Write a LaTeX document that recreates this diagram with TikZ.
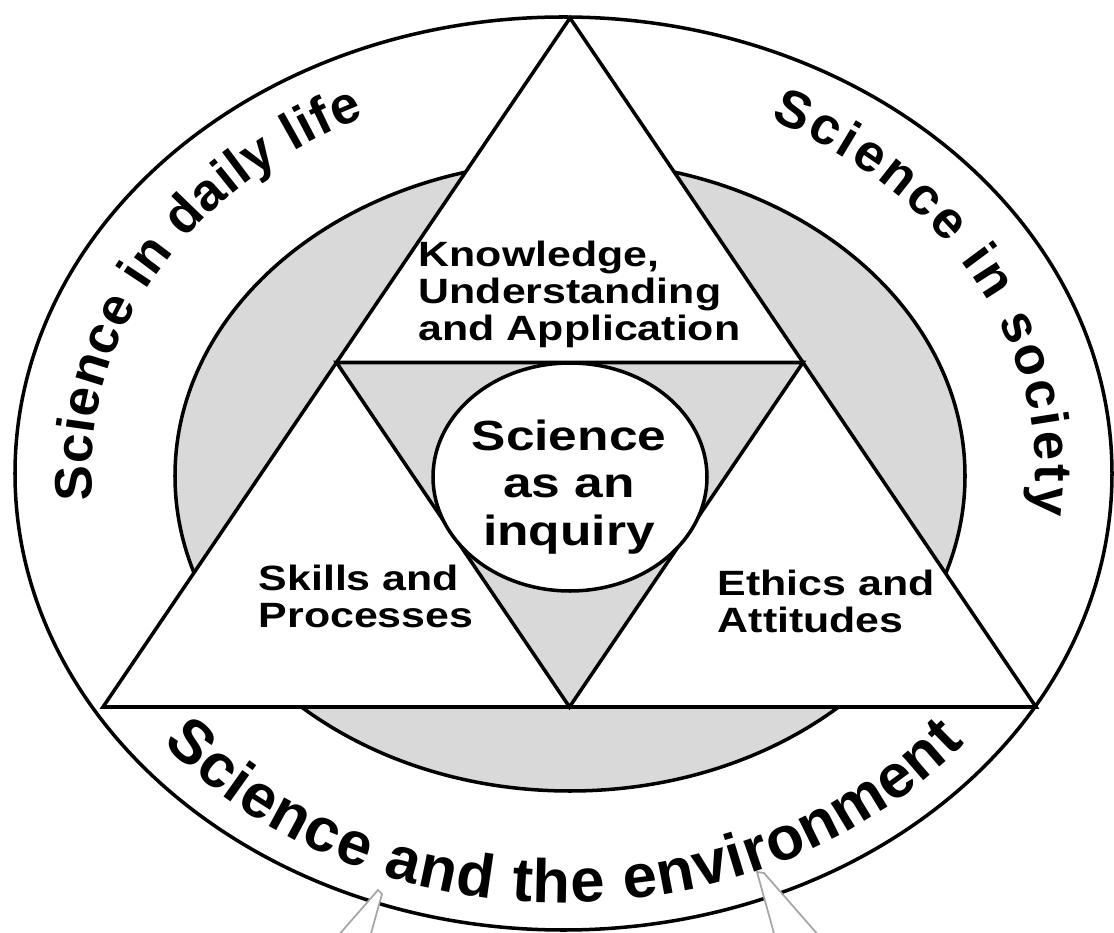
\documentclass[tikz,border=0pt]{standalone}
\usepackage{fontspec}
\setmainfont{Liberation Sans}[FakeStretch=1.22]
\newfontfamily\ringfont{Liberation Sans}
\usepackage{xcolor}
\usetikzlibrary{calc,decorations.text}

\definecolor{mottle}{gray}{0.85}
\newcommand\ringtop{\ringfont\bfseries\fontsize{15}{18}\selectfont}
\newcommand\ringlow{\ringfont\bfseries\fontsize{17.5}{21}\selectfont}

\begin{document}
\begin{tikzpicture}[
  line width=1pt,
  band/.style={draw=black, fill=mottle},
  tri/.style={draw=black, fill=white, line join=miter},
  hole/.style={draw=black, fill=white},
  partlabel/.style={align=left, inner sep=0pt, anchor=north west,
    font=\bfseries\fontsize{10}{10.5}\selectfont},
  corelabel/.style={align=center, inner sep=0pt,
    font=\bfseries\fontsize{12}{13.6}\selectfont},
  ringtext/.style={decorate, decoration={text along path,
    text align={fit to path}, text={#1}}},
  pointer/.style={fill=white, draw=gray!70, line width=0.5pt},
]
\useasboundingbox (0,0) rectangle (11.14,9.32);

% Centres and corners
\coordinate (O) at (5.635,4.585);
\coordinate (apex) at (5.70,9.14);
\coordinate (bl) at (1.03,2.25);
\coordinate (br) at (10.36,2.25);
\coordinate (ml) at ($(apex)!0.5!(bl)$);
\coordinate (mr) at ($(apex)!0.5!(br)$);
\coordinate (mb) at ($(bl)!0.5!(br)$);

% Grey band
\draw[band] (5.70,4.56) ellipse [x radius=3.95, y radius=3.15];

% Big triangle
\draw[tri] (apex) -- (bl) -- (br) -- cycle;

% Inner triangle
\draw[band, line join=miter] (ml) -- (mr) -- (mb) -- cycle;

% Core
\draw[hole] (5.70,4.55) ellipse [x radius=1.37, y radius=1.14];

% Outer ring
\draw (O) ellipse [x radius=5.485, y radius=4.565];

% Pointers at the bottom
\draw[pointer] (3.37,-0.05) -- (3.78,0.42) -- (3.82,0.38) -- (3.70,-0.05);
\draw[pointer] (7.75,-0.05) -- (7.57,0.60) -- (7.64,0.59) -- (8.20,-0.05);

% Labels
\node[partlabel] (kua) at (4.17,6.93) {Knowledge,\\Understanding\\and Application};
\node[partlabel] (skp) at (2.57,3.69) {Skills and\\Processes};
\node[partlabel] (eta) at (7.16,3.64) {Ethics and\\Attitudes};
\node[corelabel] (inq) at (5.69,4.45) {Science\\as an\\inquiry};

% Ring texts
\path[ringtext={|\ringtop|Science in daily life}]
  ($(O)+(184:4.72 and 3.93)$) arc[start angle=184, end angle=115, x radius=4.72, y radius=3.93];
\path[ringtext={|\ringtop|Science in society}]
  ($(O)+(64:4.72 and 3.93)$) arc[start angle=64, end angle=-6, x radius=4.72, y radius=3.93];
\path[ringtext={|\ringlow|Science and the environment}]
  ($(O)+(219:5.16 and 4.29)$) arc[start angle=219, end angle=321, x radius=5.16, y radius=4.29];

\end{tikzpicture}
\end{document}
